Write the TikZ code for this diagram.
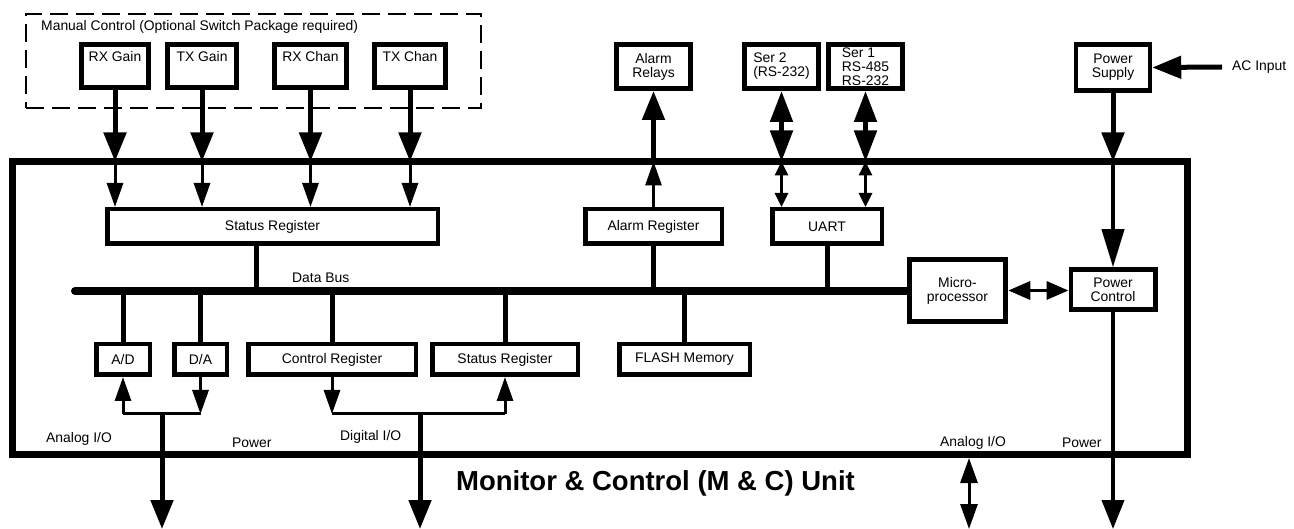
\documentclass[tikz,border=0pt]{standalone}
\usepackage{fontspec}
\setmainfont{Liberation Sans}
\usetikzlibrary{positioning, arrows.meta}

\begin{document}
\begin{tikzpicture}[x=1pt, y=-1pt, font=\fontsize{13.9}{14}\selectfont,
    unitbox/.style={draw, line width=6.5pt, inner sep=0pt, outer sep=0pt},
    extbox/.style={draw, line width=5pt, inner sep=0pt, minimum width=74pt, minimum height=44pt, align=center},
    switchbox/.style={draw, line width=5pt, inner sep=0pt, minimum height=43pt, text height=12pt, text depth=20.5pt},
    regbox/.style={draw, line width=4.5pt, inner sep=0pt, minimum height=34.5pt},
    lowbox/.style={draw, line width=4.5pt, inner sep=0pt, minimum height=30.5pt},
    lbl/.style={inner sep=0pt, anchor=west},
    thickline/.style={line width=5pt},
    midline/.style={line width=4pt},
    thinline/.style={line width=3pt},
    busline/.style={line width=8pt},
    bigtip/.style={-{Triangle[width=22pt,length=29pt]}},
    longtip/.style={-{Triangle[width=22pt,length=38pt]}},
    smalltip/.style={-{Triangle[width=16pt,length=24pt]}},
    bigboth/.style={arrows={Triangle[width=22pt,length=31pt]-Triangle[width=22pt,length=31pt]}},
    midboth/.style={arrows={Triangle[width=18pt,length=22pt]-Triangle[width=18pt,length=22pt]}},
    tinyboth/.style={arrows={Triangle[width=13pt,length=14pt]-Triangle[width=13pt,length=14pt]}},
    smallboth/.style={arrows={Triangle[width=17pt,length=25pt]-Triangle[width=17pt,length=25pt]}}]
    \useasboundingbox (0,0) rectangle (1294,529);

    % manual control
    \node[draw, dash pattern=on 18pt off 8pt, line width=2pt, minimum width=455pt, minimum height=94pt, anchor=north west, outer sep=0pt] (manual) at (26,14) {};
    \node[lbl] (manualtxt) at (41,27) {Manual Control (Optional Switch Package required)};
    \node[switchbox, minimum width=67pt] (rxgain) at (115,66) {RX Gain};
    \node[switchbox, minimum width=69pt, right=14pt of rxgain] (txgain) {TX Gain};
    \node[switchbox, minimum width=72pt, right=33pt of txgain] (rxchan) {RX Chan};
    \node[switchbox, minimum width=71pt, right=23pt of rxchan] (txchan) {TX Chan};

    % outside boxes
    \node[extbox] (relays) at (653.5,66.5) {Alarm\\Relays};
    \node[extbox, align=left] (ser2) at (781.5,66.5) {Ser 2\\(RS-232)};
    \node[extbox, align=left, right=5pt of ser2] (ser1) {Ser 1\\RS-485\\RS-232};
    \node[extbox, line width=4.5pt, minimum height=46pt] (psu) at (1113,67.5) {Power\\Supply};
    \node[lbl, inner xsep=10pt] (acin) at (1222,67) {AC Input};

    % the unit
    \node[unitbox, minimum width=1175pt, minimum height=293pt, anchor=north west] (unit) at (12.5,161.5) {};
    \node[regbox, minimum width=330.5pt] (sreg) at (272.5,226.5) {Status Register};
    \node[regbox, minimum width=136.5pt] (areg) at (653.5,226.5) {Alarm Register};
    \node[regbox, minimum width=109.5pt] (uart) at (827,226.5) {UART};
    \node[draw, line width=5pt, inner sep=0pt, minimum width=96.5pt, minimum height=62.5pt, align=center] (micro) at (957.5,290.5) {Micro-\\processor};
    \node[draw, line width=4.5pt, inner sep=0pt, minimum width=84.5pt, minimum height=40pt, align=center] (pwrctl) at (1113,289.5) {Power\\Control};

    \node[lowbox, minimum width=53.5pt] (ad) at (123,359.5) {A/D};
    \node[lowbox, minimum width=52.5pt, right=20pt of ad] (da) {D/A};
    \node[lowbox, minimum width=167.5pt, right=17pt of da] (ctrlreg) {Control Register};
    \node[lowbox, minimum width=145.5pt, right=12pt of ctrlreg] (statreg) {Status Register};
    \node[lowbox, minimum width=130.5pt, right=37pt of statreg] (flash) {FLASH Memory};

    \node[lbl] (databus) at (292,278) {Data Bus};
    \node[lbl] (analog1) at (46,439) {Analog I/O};
    \node[lbl] (power1) at (232,443) {Power};
    \node[lbl] (digital) at (340,437) {Digital I/O};
    \node[lbl] (analog2) at (940,443) {Analog I/O};
    \node[lbl] (power2) at (1062,443) {Power};
    \node[font=\bfseries\fontsize{27.5}{29}\selectfont] (title) at (655.5,483) {Monitor \& Control (M \& C) Unit};

    \coordinate (busend) at (75,291);
    \coordinate (ajoin) at (162,414);
    \coordinate (djoin) at (420,414);
    \coordinate (aout) at (162,529);
    \coordinate (dout) at (420,529);
    \coordinate (ranlg) at (969,458);
    \coordinate (ranlgout) at (969,529);
    \coordinate (pwrout) at (1113,529);

    % data bus
    \draw[busline, line cap=round] (busend) -- (busend -| micro.west);
    \draw[thickline] ([xshift=-16.5pt]sreg.south) -- ([xshift=-16.5pt]sreg.south |- busend);
    \draw[thickline] (areg.south) -- (areg.south |- busend);
    \draw[thickline] (uart.south) -- (uart.south |- busend);
    \draw[thickline] (ad.north) -- (ad.north |- busend);
    \draw[thickline] (da.north) -- (da.north |- busend);
    \draw[thickline] (ctrlreg.north) -- (ctrlreg.north |- busend);
    \draw[thickline] (statreg.north) -- (statreg.north |- busend);
    \draw[thickline] (flash.north) -- (flash.north |- busend);

    % manual switches
    \draw[thickline, bigtip] (rxgain.south) -- (rxgain.south |- unit.north);
    \draw[thickline, bigtip] (txgain.south) -- (txgain.south |- unit.north);
    \draw[thickline, bigtip] (rxchan.south) -- (rxchan.south |- unit.north);
    \draw[thickline, bigtip] (txchan.south) -- (txchan.south |- unit.north);
    \draw[thinline, smalltip] (rxgain.south |- unit.north) -- (rxgain.south |- sreg.north);
    \draw[thinline, smalltip] (txgain.south |- unit.north) -- (txgain.south |- sreg.north);
    \draw[thinline, smalltip] (rxchan.south |- unit.north) -- (rxchan.south |- sreg.north);
    \draw[thinline, smalltip] (txchan.south |- unit.north) -- (txchan.south |- sreg.north);

    % alarm and serial
    \draw[thinline, smalltip] (areg.north) -- (areg.north |- unit.north);
    \draw[thickline, bigtip] (areg.north |- unit.north) -- (relays.south);
    \draw[thickline, bigboth] (ser2.south) -- (ser2.south |- unit.north);
    \draw[thickline, bigboth] (ser1.south) -- (ser1.south |- unit.north);
    \draw[thinline, tinyboth] (ser2.south |- unit.north) -- (ser2.south |- uart.north);
    \draw[thinline, tinyboth] (ser1.south |- unit.north) -- (ser1.south |- uart.north);

    % power
    \draw[thickline, bigtip] (acin.west) -- (psu.east);
    \draw[thickline, bigtip] (psu.south) -- (psu.south |- unit.north);
    \draw[midline, longtip] (psu.south |- unit.north) -- (pwrctl.north);
    \draw[line width=3.5pt, midboth] (micro.east) -- (micro.east -| pwrctl.west);
    \draw[midline, bigtip] (pwrctl.south) -- (pwrout);

    % analog and digital I/O
    \draw[thinline] (ad.south |- ajoin) -- (da.south |- ajoin);
    \draw[thinline, smalltip] (ad.south |- ajoin) -- (ad.south);
    \draw[thinline, smalltip] (da.south) -- (da.south |- ajoin);
    \draw[thickline, bigtip] (ajoin) -- (aout);
    \draw[thinline] (ctrlreg.south |- djoin) -- (statreg.south |- djoin);
    \draw[thinline, smalltip] (ctrlreg.south) -- (ctrlreg.south |- djoin);
    \draw[thinline, smalltip] (statreg.south |- djoin) -- (statreg.south);
    \draw[thickline, bigtip] (djoin) -- (dout);
    \draw[thinline, smallboth] (ranlg) -- (ranlgout);
\end{tikzpicture}
\end{document}
